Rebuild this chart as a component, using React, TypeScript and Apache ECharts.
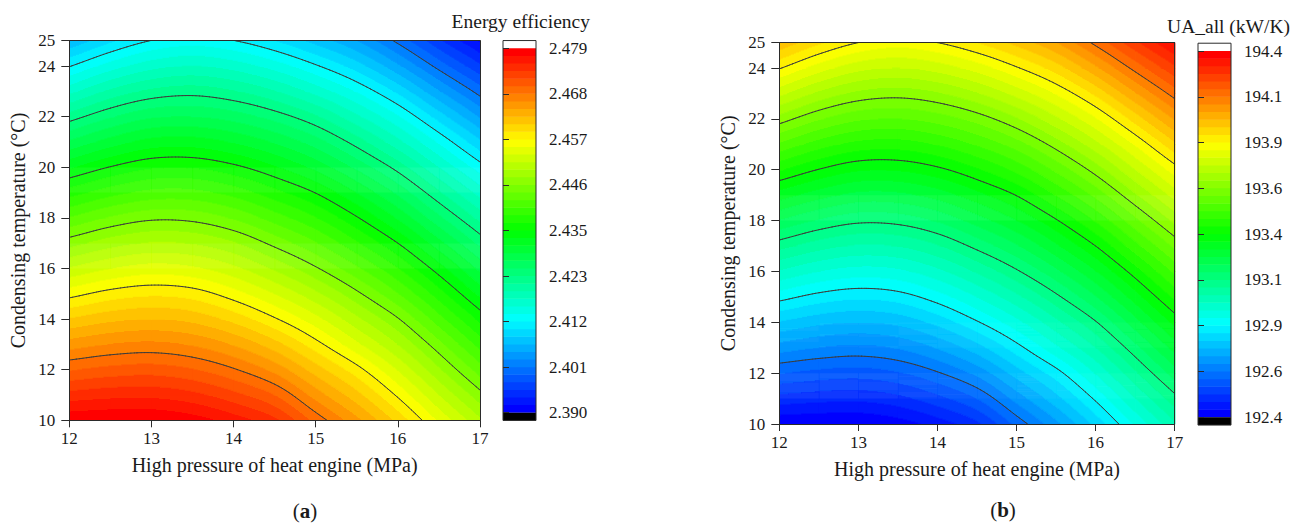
import React, { useEffect, useRef } from "react";
import * as echarts from "echarts";

// ---------------- data ----------------
const pressureMPa = [12, 12.5, 13, 13.5, 14, 14.5, 15, 15.5, 16, 16.5, 17];
const condensingTempC = [10, 11, 12, 13, 14, 15, 16, 17, 18, 19, 20, 21, 22, 23, 24, 25];

// (a) energy efficiency, one row per condensing temperature, one column per pressure
const energyEfficiency = [
  [2.4787, 2.4790, 2.4790, 2.4781, 2.4763, 2.4739, 2.4691, 2.4647, 2.4599, 2.4546, 2.4497],
  [2.4742, 2.4747, 2.4748, 2.4740, 2.4722, 2.4697, 2.4652, 2.4611, 2.4564, 2.4512, 2.4463],
  [2.4696, 2.4704, 2.4707, 2.4699, 2.4681, 2.4654, 2.4614, 2.4575, 2.4529, 2.4478, 2.4428],
  [2.4651, 2.4661, 2.4665, 2.4658, 2.4640, 2.4612, 2.4575, 2.4535, 2.4493, 2.4444, 2.4393],
  [2.4606, 2.4618, 2.4623, 2.4617, 2.4598, 2.4570, 2.4537, 2.4498, 2.4458, 2.4408, 2.4358],
  [2.4560, 2.4575, 2.4582, 2.4577, 2.4557, 2.4530, 2.4498, 2.4461, 2.4420, 2.4372, 2.4321],
  [2.4514, 2.4530, 2.4539, 2.4534, 2.4517, 2.4490, 2.4459, 2.4423, 2.4383, 2.4335, 2.4284],
  [2.4467, 2.4485, 2.4495, 2.4492, 2.4477, 2.4450, 2.4421, 2.4385, 2.4345, 2.4296, 2.4247],
  [2.4420, 2.4440, 2.4452, 2.4450, 2.4435, 2.4410, 2.4383, 2.4347, 2.4305, 2.4257, 2.4209],
  [2.4373, 2.4393, 2.4406, 2.4406, 2.4393, 2.4370, 2.4344, 2.4307, 2.4266, 2.4218, 2.4170],
  [2.4324, 2.4346, 2.4361, 2.4362, 2.4350, 2.4329, 2.4302, 2.4266, 2.4226, 2.4178, 2.4131],
  [2.4274, 2.4298, 2.4315, 2.4317, 2.4306, 2.4287, 2.4261, 2.4225, 2.4184, 2.4138, 2.4089],
  [2.4224, 2.4250, 2.4268, 2.4271, 2.4262, 2.4244, 2.4218, 2.4182, 2.4143, 2.4095, 2.4046],
  [2.4172, 2.4201, 2.4220, 2.4226, 2.4217, 2.4198, 2.4171, 2.4139, 2.4099, 2.4050, 2.4003],
  [2.4121, 2.4150, 2.4171, 2.4179, 2.4170, 2.4151, 2.4125, 2.4094, 2.4052, 2.4004, 2.3959],
  [2.4069, 2.4100, 2.4123, 2.4132, 2.4123, 2.4104, 2.4078, 2.4048, 2.4006, 2.3959, 2.3916],
];

// (b) UA_all (kW/K)
const uaAll = [
  [192.406, 192.401, 192.400, 192.420, 192.460, 192.515, 192.622, 192.721, 192.830, 192.949, 193.059],
  [192.508, 192.498, 192.494, 192.512, 192.553, 192.610, 192.709, 192.802, 192.908, 193.025, 193.135],
  [192.610, 192.594, 192.587, 192.604, 192.645, 192.705, 192.796, 192.882, 192.987, 193.101, 193.213],
  [192.712, 192.691, 192.681, 192.696, 192.738, 192.800, 192.883, 192.974, 193.067, 193.178, 193.293],
  [192.814, 192.787, 192.775, 192.788, 192.831, 192.895, 192.970, 193.056, 193.146, 193.259, 193.372],
  [192.917, 192.884, 192.868, 192.880, 192.923, 192.985, 193.056, 193.139, 193.231, 193.340, 193.453],
  [193.021, 192.984, 192.965, 192.974, 193.014, 193.074, 193.143, 193.224, 193.315, 193.422, 193.536],
  [193.125, 193.085, 193.062, 193.069, 193.105, 193.164, 193.229, 193.310, 193.400, 193.510, 193.619],
  [193.231, 193.187, 193.160, 193.165, 193.198, 193.254, 193.316, 193.395, 193.489, 193.597, 193.705],
  [193.338, 193.293, 193.262, 193.264, 193.293, 193.344, 193.402, 193.486, 193.579, 193.686, 193.793],
  [193.447, 193.398, 193.364, 193.363, 193.389, 193.436, 193.496, 193.577, 193.669, 193.775, 193.880],
  [193.559, 193.505, 193.469, 193.463, 193.487, 193.531, 193.589, 193.669, 193.761, 193.864, 193.975],
  [193.672, 193.613, 193.574, 193.565, 193.586, 193.626, 193.687, 193.766, 193.854, 193.961, 194.072],
  [193.788, 193.724, 193.681, 193.668, 193.687, 193.730, 193.791, 193.863, 193.953, 194.063, 194.170],
  [193.904, 193.838, 193.790, 193.774, 193.794, 193.836, 193.895, 193.964, 194.058, 194.165, 194.267],
  [194.019, 193.951, 193.900, 193.879, 193.900, 193.943, 193.999, 194.067, 194.163, 194.267, 194.364],
];

const efficiencyRange = [2.39, 2.479];
const efficiencyTicks = ["2.390", "2.401", "2.412", "2.423", "2.435", "2.446", "2.457", "2.468", "2.479"];
const uaRange = [192.4, 194.4];
const uaTicks = ["192.4", "192.6", "192.9", "193.1", "193.4", "193.6", "193.9", "194.1", "194.4"];

// ---------------- styling helpers ----------------
const FONT = "Liberation Serif";
const INK = "#1a1a1a";
const FRAME = "#2b2b2b";
const BANDS = 48;

function rainbow(t: number): string {
  const c = (v: number) => Math.round(Math.max(0, Math.min(255, v)));
  let r = 0, g = 0, b = 0;
  if (t < 0.25) { r = 0; g = 255 * (t / 0.25); b = 255; }
  else if (t < 0.5) { r = 0; g = 255; b = 255 * (1 - (t - 0.25) / 0.25); }
  else if (t < 0.75) { r = 255 * ((t - 0.5) / 0.25); g = 255; b = 0; }
  else { r = 255; g = 255 * (1 - (t - 0.75) / 0.25); b = 0; }
  return `rgb(${c(r)},${c(g)},${c(b)})`;
}
const BAND_COLORS = Array.from({ length: BANDS }, (_, i) => rainbow(i / (BANDS - 1)));

function bandOf(v: number, lo: number, hi: number) {
  let b = Math.floor(((v - lo) / (hi - lo)) * BANDS);
  if (b < 0) b = 0;
  if (b > BANDS - 1) b = BANDS - 1;
  return b;
}

function gridItems(grid: number[][]) {
  const out: number[][] = [];
  for (let j = 0; j < condensingTempC.length; j++)
    for (let i = 0; i < pressureMPa.length; i++)
      out.push([pressureMPa[i], condensingTempC[j], grid[j][i]]);
  return out;
}

// smooth (Catmull-Rom) shading of the read grid inside one cell
function cellShader(grid: number[][], i: number, j: number) {
  const nx = grid[0].length, ny = grid.length;
  const at = (a: number, b: number): number => {
    if (a < 0) return 2 * at(0, b) - at(1, b);
    if (a > nx - 1) return 2 * at(nx - 1, b) - at(nx - 2, b);
    if (b < 0) return 2 * at(a, 0) - at(a, 1);
    if (b > ny - 1) return 2 * at(a, ny - 1) - at(a, ny - 2);
    return grid[b][a];
  };
  const cr = (p0: number, p1: number, p2: number, p3: number, t: number) =>
    0.5 * (2 * p1 + (-p0 + p2) * t + (2 * p0 - 5 * p1 + 4 * p2 - p3) * t * t + (-p0 + 3 * p1 - 3 * p2 + p3) * t * t * t);
  const cols: number[][] = [];
  for (let di = -1; di <= 2; di++) cols.push([at(i + di, j - 1), at(i + di, j), at(i + di, j + 1), at(i + di, j + 2)]);
  return (t: number) => {
    const c = cols.map((q) => cr(q[0], q[1], q[2], q[3], t));
    return (s: number) => cr(c[0], c[1], c[2], c[3], s);
  };
}

function cellPixels(idx: number, api: any) {
  const nx = pressureMPa.length, ny = condensingTempC.length;
  const i = idx % nx, j = Math.floor(idx / nx);
  if (i >= nx - 1 || j >= ny - 1) return null;
  const pA = api.coord([pressureMPa[i], condensingTempC[j]]);
  const pB = api.coord([pressureMPa[i + 1], condensingTempC[j + 1]]);
  return { i, j, pA, pB };
}

function fillRenderer(grid: number[][], range: number[]) {
  return (params: any, api: any) => {
    const c = cellPixels(params.dataIndex, api);
    if (!c) return null;
    const shade = cellShader(grid, c.i, c.j);
    const left = c.pA[0], right = c.pB[0], bottom = c.pA[1], top = c.pB[1];
    const W = right - left, H = bottom - top;
    const ncol = Math.max(1, Math.ceil(W));
    const children: any[] = [];
    for (let py = top; py < bottom - 1e-6; py += 1) {
      const h = Math.min(1, bottom - py);
      const ty = (bottom - (py + h / 2)) / H;
      const row = shade(ty);
      let runStart = left;
      let runBand = -1;
      for (let k = 0; k < ncol; k++) {
        const b = bandOf(row((k + 0.5) / ncol), range[0], range[1]);
        if (runBand === -1) runBand = b;
        else if (b !== runBand) {
          const xe = left + (k * W) / ncol;
          children.push({ type: "rect", silent: true, shape: { x: runStart, y: py, width: xe - runStart + 0.6, height: h + 0.6 }, style: { fill: BAND_COLORS[runBand] } });
          runStart = xe;
          runBand = b;
        }
      }
      children.push({ type: "rect", silent: true, shape: { x: runStart, y: py, width: right - runStart + 0.6, height: h + 0.6 }, style: { fill: BAND_COLORS[runBand] } });
    }
    return { type: "group", children };
  };
}

function contourRenderer(grid: number[][], range: number[], nLevels: number) {
  const levels: number[] = [];
  for (let k = 1; k < nLevels; k++) levels.push(range[0] + ((range[1] - range[0]) * k) / nLevels);
  return (params: any, api: any) => {
    const c = cellPixels(params.dataIndex, api);
    if (!c) return null;
    const shade = cellShader(grid, c.i, c.j);
    const NS = 12;
    const vals: number[][] = [];
    let mn = Infinity, mx = -Infinity;
    for (let b = 0; b <= NS; b++) {
      const row = shade(b / NS);
      const r: number[] = [];
      for (let a = 0; a <= NS; a++) {
        const v = row(a / NS);
        r.push(v);
        if (v < mn) mn = v;
        if (v > mx) mx = v;
      }
      vals.push(r);
    }
    const px = (s: number) => c.pA[0] + (c.pB[0] - c.pA[0]) * s;
    const py = (t: number) => c.pA[1] + (c.pB[1] - c.pA[1]) * t;
    const children: any[] = [];
    const seg = (p: number[], q: number[]) => ({
      type: "line", silent: true,
      shape: { x1: p[0], y1: p[1], x2: q[0], y2: q[1] },
      style: { stroke: "#3c3c3c", lineWidth: 1, lineCap: "round" },
    });
    for (const L of levels) {
      if (L < mn || L > mx) continue;
      for (let a = 0; a < NS; a++) {
        for (let b = 0; b < NS; b++) {
          const cs = [[a, b], [a + 1, b], [a + 1, b + 1], [a, b + 1]];
          const vv = cs.map(([s, t]) => vals[t][s] - L);
          const pts: number[][] = [];
          for (let e = 0; e < 4; e++) {
            const p = vv[e], q = vv[(e + 1) % 4];
            if ((p < 0) !== (q < 0)) {
              const f = p / (p - q);
              const s = (cs[e][0] + (cs[(e + 1) % 4][0] - cs[e][0]) * f) / NS;
              const t = (cs[e][1] + (cs[(e + 1) % 4][1] - cs[e][1]) * f) / NS;
              pts.push([px(s), py(t)]);
            }
          }
          if (pts.length >= 2) children.push(seg(pts[0], pts[1]));
          if (pts.length === 4) children.push(seg(pts[2], pts[3]));
        }
      }
    }
    return { type: "group", children };
  };
}

function colorbarItems(nTicks: number) {
  const top = nTicks - 1;
  const items: number[][] = [];
  for (let b = 0; b < BANDS; b++) items.push([(b * top) / BANDS, ((b + 1) * top) / BANDS, b]);
  items.push([-0.17, 0, -1]);
  items.push([top, top + 0.17, BANDS]);
  items.push([-0.17, top + 0.17, -2]);
  return items;
}

function colorbarRender(params: any, api: any) {
  const lo = api.value(0), hi = api.value(1), k = api.value(2);
  const p0 = api.coord([0, lo]);
  const p1 = api.coord([1, hi]);
  const x = p0[0], w = p1[0] - p0[0], y = p1[1], h = p0[1] - p1[1];
  if (k === -2) {
    return { type: "rect", shape: { x, y, width: w, height: h }, style: { fill: "none", stroke: FRAME, lineWidth: 1 }, z2: 10 };
  }
  const fill = k === -1 ? "#000000" : k === BANDS ? "#ffffff" : BAND_COLORS[k];
  const extra = k >= 0 && k < BANDS ? 0.5 : 0;
  return { type: "rect", shape: { x, y: y - extra, width: w, height: h + extra }, style: { fill } };
}

const tickText = { fontFamily: FONT, fontSize: 17, color: INK };
const nameText = { fontFamily: FONT, fontSize: 20, color: INK };

function mainAxes(gridIndex: number) {
  const x = [
    {
      type: "value", gridIndex, min: 12, max: 17, interval: 1, z: 10,
      axisLine: { show: true, lineStyle: { color: FRAME, width: 1 } },
      axisTick: { show: true, inside: false, length: 7, lineStyle: { color: FRAME } },
      axisLabel: { ...tickText, margin: 10 },
      splitLine: { show: false },
      name: "High pressure of heat engine (MPa)", nameLocation: "middle", nameGap: 35,
      nameTextStyle: nameText,
    },
    {
      type: "value", gridIndex, min: 12, max: 17, position: "top", z: 10,
      axisLine: { show: true, lineStyle: { color: FRAME, width: 1 } },
      axisTick: { show: false }, axisLabel: { show: false }, splitLine: { show: false },
    },
  ];
  const y = [
    {
      type: "value", gridIndex, min: 10, max: 25, interval: 2, z: 10,
      axisLine: { show: true, lineStyle: { color: FRAME, width: 1 } },
      axisTick: { show: true, inside: false, length: 8, lineStyle: { color: FRAME } },
      axisLabel: { ...tickText, margin: 14, showMaxLabel: true, showMinLabel: true },
      splitLine: { show: false },
      name: "Condensing temperature (°C)", nameLocation: "middle", nameGap: 41,
      nameTextStyle: nameText,
    },
    {
      type: "value", gridIndex, min: 10, max: 25, position: "right", z: 10,
      axisLine: { show: true, lineStyle: { color: FRAME, width: 1 } },
      axisTick: { show: false }, axisLabel: { show: false }, splitLine: { show: false },
    },
  ];
  return { x, y };
}

function cbAxes(gridIndex: number, ticks: string[]) {
  return {
    x: { type: "value", gridIndex, min: 0, max: 1, show: false },
    y: {
      type: "value", gridIndex, min: 0, max: ticks.length - 1, interval: 1, position: "right", z: 10,
      axisLine: { show: false },
      axisTick: { show: true, inside: false, length: 6, lineStyle: { color: FRAME } },
      axisLabel: { ...tickText, margin: 13, formatter: (v: number) => ticks[Math.round(v)] ?? "" },
      splitLine: { show: false },
    },
  };
}

export default function App() {
  const ref = useRef<HTMLDivElement>(null);
  useEffect(() => {
    if (!ref.current) return;
    const chart = echarts.init(ref.current, undefined, { renderer: "svg" });
    const aMain = mainAxes(0);
    const aCb = cbAxes(1, efficiencyTicks);
    const bMain = mainAxes(2);
    const bCb = cbAxes(3, uaTicks);
    const option: any = {
      animation: false,
      backgroundColor: "#ffffff",
      grid: [
        { left: 69.3, top: 40.7, width: 410.7, height: 379.6 },
        { left: 503, top: 48.3, width: 33, height: 364.4 },
        { left: 779.3, top: 42.6, width: 395.4, height: 381.4 },
        { left: 1198, top: 51, width: 33, height: 366.3 },
      ],
      xAxis: [aMain.x[0], aMain.x[1], aCb.x, bMain.x[0], bMain.x[1], bCb.x],
      yAxis: [aMain.y[0], aMain.y[1], aCb.y, bMain.y[0], bMain.y[1], bCb.y],
      series: [
        { type: "custom", name: "Energy efficiency", xAxisIndex: 0, yAxisIndex: 0, clip: true, z: 2,
          data: gridItems(energyEfficiency), renderItem: fillRenderer(energyEfficiency, efficiencyRange) },
        { type: "custom", name: "Energy efficiency contours", xAxisIndex: 0, yAxisIndex: 0, clip: true, z: 3,
          data: gridItems(energyEfficiency), renderItem: contourRenderer(energyEfficiency, efficiencyRange, efficiencyTicks.length - 1) },
        { type: "custom", name: "Energy efficiency scale", xAxisIndex: 2, yAxisIndex: 2, clip: false, z: 2,
          data: colorbarItems(efficiencyTicks.length), renderItem: colorbarRender },
        { type: "custom", name: "UA_all", xAxisIndex: 3, yAxisIndex: 3, clip: true, z: 2,
          data: gridItems(uaAll), renderItem: fillRenderer(uaAll, uaRange) },
        { type: "custom", name: "UA_all contours", xAxisIndex: 3, yAxisIndex: 3, clip: true, z: 3,
          data: gridItems(uaAll), renderItem: contourRenderer(uaAll, uaRange, uaTicks.length - 1) },
        { type: "custom", name: "UA_all scale", xAxisIndex: 5, yAxisIndex: 5, clip: false, z: 2,
          data: colorbarItems(uaTicks.length), renderItem: colorbarRender },
      ],
      graphic: [
        { type: "text", x: 590, y: 21, style: { text: "Energy efficiency", align: "right", verticalAlign: "middle", fontFamily: FONT, fontSize: 19.5, fill: INK } },
        { type: "text", x: 1290, y: 26, style: { text: "UA_all (kW/K)", align: "right", verticalAlign: "middle", fontFamily: FONT, fontSize: 19.5, fill: INK } },
        { type: "text", x: 305, y: 511, style: { text: "{n|(}{b|a}{n|)}", align: "center", verticalAlign: "middle",
            rich: { n: { fontFamily: FONT, fontSize: 21, fill: INK }, b: { fontFamily: FONT, fontSize: 21, fontWeight: "bold", fill: INK } } } },
        { type: "text", x: 1003, y: 510, style: { text: "{n|(}{b|b}{n|)}", align: "center", verticalAlign: "middle",
            rich: { n: { fontFamily: FONT, fontSize: 21, fill: INK }, b: { fontFamily: FONT, fontSize: 21, fontWeight: "bold", fill: INK } } } },
      ],
    };
    chart.setOption(option);
    return () => chart.dispose();
  }, []);
  return (
    <div
      ref={ref}
      style={{ position: "fixed", left: 0, top: 0, width: 1303, height: 527, background: "#ffffff" }}
    />
  );
}
